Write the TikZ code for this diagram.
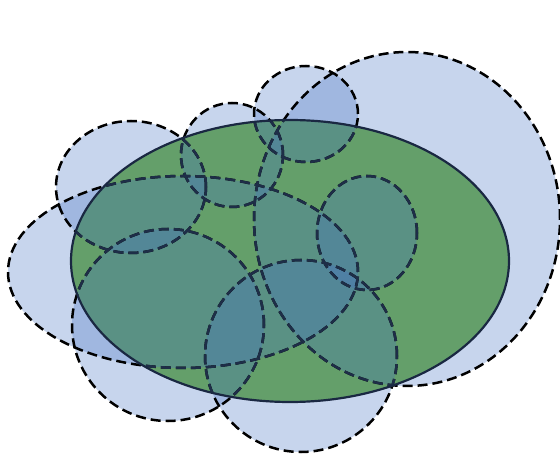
\documentclass[tikz,border=0pt]{standalone}
\usetikzlibrary{calc}
\definecolor{blobblue}{RGB}{70,115,195}
\definecolor{leafgreen}{RGB}{114,179,68}
\definecolor{inknavy}{RGB}{30,46,72}
\definecolor{rimnavy}{RGB}{26,40,66}
\newcommand\blobpaths[1]{%
  \path[#1] (407,219) ellipse [x radius=153pt, y radius=167pt];
  \path[#1] (183,272) ellipse [x radius=175pt, y radius=96pt];
  \path[#1] (131,187) ellipse [x radius=75pt, y radius=66pt];
  \path[#1] (232,155) ellipse [x radius=51pt, y radius=52pt];
  \path[#1] (306,114) ellipse [x radius=52pt, y radius=48pt];
  \path[#1] (367,233) ellipse [x radius=50pt, y radius=57pt];
  \path[#1] (168,325) ellipse [x radius=96pt, y radius=96pt];
  \path[#1] (301,356) ellipse [x radius=96pt, y radius=96pt];
}
\newcommand\greenpath{(290,261) ellipse [x radius=219pt, y radius=141pt]}
\tikzset{
  blobfill/.style={fill=blobblue, fill opacity=0.3},
  blobline/.style={draw=black, line width=2.5pt, dash pattern=on 10pt off 5pt},
  blobinner/.style={draw=inknavy, line width=2.5pt, dash pattern=on 10pt off 5pt},
  greenfill/.style={fill=leafgreen},
  greenline/.style={draw=rimnavy, line width=2.2pt}
}
\begin{document}
\begin{tikzpicture}[x=1pt,y=-1pt]
  \useasboundingbox (0,0) rectangle (560,454);
  \path[greenfill] \greenpath;
  \blobpaths{blobfill}
  \blobpaths{blobline}
  \begin{scope}
    \clip \greenpath;
    \blobpaths{blobinner}
  \end{scope}
  \path[greenline] \greenpath;
\end{tikzpicture}
\end{document}
